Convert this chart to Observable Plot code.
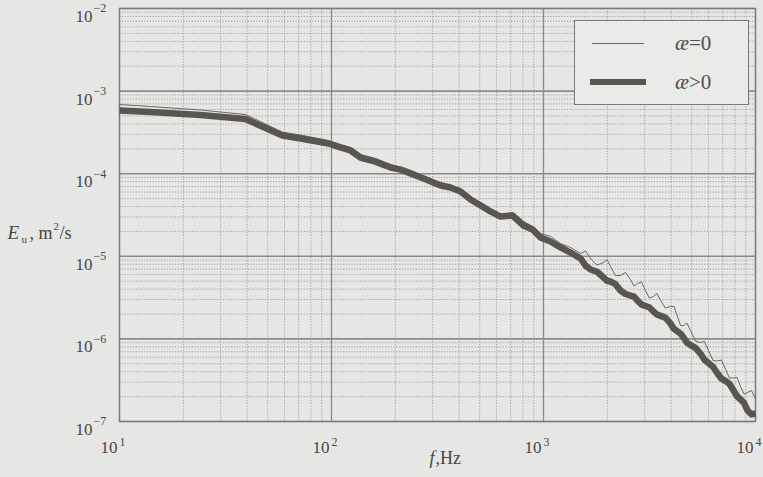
<!DOCTYPE html>
<html><head><meta charset="utf-8">
<script src="https://cdn.jsdelivr.net/npm/d3@7"></script>
<script src="https://cdn.jsdelivr.net/npm/@observablehq/plot@0.6"></script>
<style>
html,body{margin:0;padding:0;background:#e6e6e4;}
#wrap{position:relative;width:763px;height:477px;overflow:hidden;}
#legend{position:absolute;left:574px;top:20px;width:173px;height:83px;border:1.3px solid #7a7a7a;background:#eaeae8;font-family:"Liberation Serif",serif;font-size:21px;color:#505050;}
#legend .row{position:absolute;left:0;width:100%;height:24px;}
#legend .sw{position:absolute;left:17px;width:54px;}
#legend .lab{position:absolute;left:100px;top:0;line-height:24px;}
</style></head><body><div id="wrap"></div>
<script>
// frequency, Hz
const freq = [10,14,24.1,39.3,58.7,71.4,96.8,110,123,137,161,190,212,236,272,327,364,406,453,505,562,627,714,805,888,968,1079,1203,1340,
  1496,1579,1667,1789,1920,1993,2070,2185,2307,2436,2572,2672,2775,2898,3027,3161,3300,3430,3565,3762,3970,4125,4285,4428,4575,4752,4935,5210,5500,5744,5998,6301,6620,6911,7215,7540,7880,8182,8496,8827,9170,9576,10000];
// E_u, m^2/s, for ae = 0 (thin line)
const eZero = [6.88e-4,6.51e-4,5.90e-4,5.21e-4,3.18e-4,2.94e-4,2.52e-4,2.26e-4,2.08e-4,1.71e-4,1.53e-4,1.29e-4,1.19e-4,1.06e-4,9.25e-5,7.82e-5,7.20e-5,6.62e-5,5.15e-5,4.48e-5,3.79e-5,3.21e-5,3.39e-5,2.64e-5,2.30e-5,1.89e-5,1.74e-5,1.43e-5,1.28e-5,
  1.08e-5,1.16e-5,9.40e-6,7.82e-6,8.41e-6,9.15e-6,7.52e-6,5.84e-6,5.85e-6,6.37e-6,5.24e-6,4.36e-6,4.69e-6,4.89e-6,3.85e-6,3.12e-6,3.26e-6,3.55e-6,2.92e-6,2.36e-6,2.47e-6,2.47e-6,1.87e-6,1.45e-6,1.45e-6,1.55e-6,1.26e-6,9.4e-7,9.05e-7,9.3e-7,7.24e-7,5.5e-7,5.40e-7,5.55e-7,4.32e-7,3.35e-7,3.36e-7,3.43e-7,2.65e-7,2.15e-7,2.24e-7,2.37e-7,1.90e-7];
// E_u, m^2/s, for ae > 0 (thick line)
const ePos = [5.82e-4,5.58e-4,5.14e-4,4.59e-4,2.90e-4,2.67e-4,2.32e-4,2.08e-4,1.91e-4,1.57e-4,1.40e-4,1.19e-4,1.12e-4,1.01e-4,8.75e-5,7.20e-5,6.81e-5,6.09e-5,4.87e-5,4.12e-5,3.49e-5,3.03e-5,3.12e-5,2.36e-5,2.11e-5,1.69e-5,1.51e-5,1.28e-5,1.11e-5,
  9.40e-6,7.7e-6,6.92e-6,6.5e-6,5.54e-6,5.05e-6,4.95e-6,4.6e-6,3.85e-6,3.5e-6,3.35e-6,3.25e-6,2.92e-6,2.6e-6,2.50e-6,2.4e-6,2.15e-6,1.98e-6,1.90e-6,1.8e-6,1.54e-6,1.32e-6,1.23e-6,1.16e-6,1.04e-6,9.0e-7,8.4e-7,7.8e-7,6.65e-7,5.6e-7,5.10e-7,4.6e-7,3.81e-7,3.3e-7,3.10e-7,2.85e-7,2.37e-7,2.02e-7,1.85e-7,1.68e-7,1.36e-7,1.22e-7,1.25e-7];
// tick exponents
const xExponents = [1,2,3,4];
const yExponents = [-7,-6,-5,-4,-3,-2];
const seriesNames = ["æ=0","æ>0"];

const expText = s => String(s).replace("-", "−");
const xMajor = xExponents.map(e => 10 ** e);
const yMajor = yExponents.map(e => 10 ** e);
const xMinor = [], yMinor = [];
xMajor.slice(0, -1).forEach(v => { for (let k = 2; k <= 9; k++) xMinor.push(v * k); });
yMajor.slice(0, -1).forEach(v => { for (let k = 2; k <= 9; k++) yMinor.push(v * k); });

const rows = freq.map((f, i) => ({f, e0: eZero[i], e1: ePos[i]}));
const ink = "#474747";
const serif = "Liberation Serif";

const chart = Plot.plot({
  width: 763, height: 477,
  marginLeft: 119, marginRight: 8, marginTop: 8, marginBottom: 56,
  style: {background: "transparent", fontFamily: serif},
  x: {type: "log", domain: [10, 1e4], axis: null},
  y: {type: "log", domain: [1e-7, 1e-2], axis: null},
  marks: [
    Plot.ruleX(xMinor, {stroke: "#999", strokeWidth: 0.9, strokeDasharray: "1.2,1.6"}),
    Plot.ruleY(yMinor, {stroke: "#999", strokeWidth: 0.9, strokeDasharray: "1.2,1.6"}),
    Plot.ruleX(xMajor, {stroke: "#8a8a8a", strokeWidth: 1.3}),
    Plot.ruleY(yMajor, {stroke: "#8a8a8a", strokeWidth: 1.6}),
    Plot.frame({stroke: "#7a7a7a", strokeWidth: 1.3}),
    Plot.line(rows, {x: "f", y: "e0", stroke: "#676767", strokeWidth: 1}),
    Plot.line(rows, {x: "f", y: "e1", stroke: "#5a5550", strokeWidth: 6.5, strokeLinejoin: "round", strokeLinecap: "butt"}),
    // y tick labels
    Plot.text(yMajor, {y: d => d, text: () => "10", frameAnchor: "left", dx: -27, dy: 8, textAnchor: "end", fontSize: 17, fill: ink}),
    Plot.text(yExponents, {y: e => 10 ** e, text: e => expText(e), frameAnchor: "left", dx: -26, dy: 0, textAnchor: "start", fontSize: 12, fill: ink}),
    // x tick labels
    Plot.text(xMajor, {x: d => d, text: () => "10", frameAnchor: "bottom", dx: -2, dy: 31, textAnchor: "end", fontSize: 17, fill: ink}),
    Plot.text(xExponents, {x: e => 10 ** e, text: e => expText(e), frameAnchor: "bottom", dx: 0, dy: 24, textAnchor: "start", fontSize: 12, fill: ink}),
    // x axis label
    Plot.text(["f"], {frameAnchor: "bottom", dx: -3, dy: 42, textAnchor: "end", fontSize: 18, fontStyle: "italic", fill: ink}),
    Plot.text([",Hz"], {frameAnchor: "bottom", dx: -2, dy: 42, textAnchor: "start", fontSize: 18, fill: ink}),
    // y axis label
    Plot.text(["E"], {frameAnchor: "left", dx: -112, dy: 18, textAnchor: "start", fontSize: 19, fontStyle: "italic", fill: ink}),
    Plot.text(["u"], {frameAnchor: "left", dx: -98, dy: 24, textAnchor: "start", fontSize: 11, fill: ink}),
    Plot.text([", m"], {frameAnchor: "left", dx: -90, dy: 18, textAnchor: "start", fontSize: 18, fill: ink}),
    Plot.text(["2"], {frameAnchor: "left", dx: -66, dy: 11, textAnchor: "start", fontSize: 11, fill: ink}),
    Plot.text(["/s"], {frameAnchor: "left", dx: -60, dy: 18, textAnchor: "start", fontSize: 18, fill: ink})
  ]
});
const wrap = document.getElementById("wrap");
wrap.appendChild(chart);

const legend = document.createElement("div");
legend.id = "legend";
legend.innerHTML = `
  <div class="row" style="top:10px"><div class="sw" style="top:11.5px;height:0;border-top:1px solid #676767;width:52px"></div><div class="lab"></div></div>
  <div class="row" style="top:49px"><div class="sw" style="top:9px;height:6px;background:#5a5550;left:15px;width:56px"></div><div class="lab"></div></div>`;
wrap.appendChild(legend);
const labs = legend.querySelectorAll(".lab");
seriesNames.forEach((name, i) => {
  const it = document.createElement("i");
  it.textContent = name.slice(0, 1);
  labs[i].appendChild(it);
  labs[i].appendChild(document.createTextNode(name.slice(1)));
});
</script>
</body></html>
